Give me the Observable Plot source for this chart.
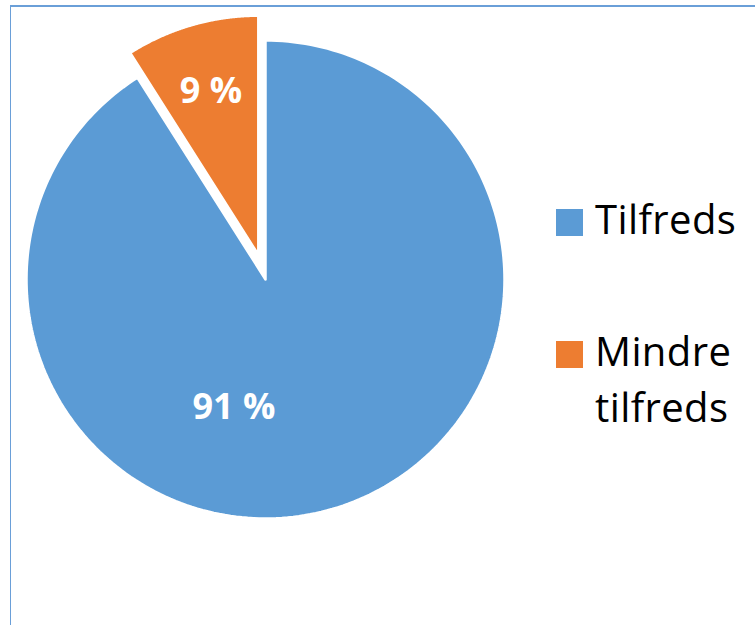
<!DOCTYPE html>
<html><head><meta charset="utf-8">
<script src="https://cdn.jsdelivr.net/npm/d3@7"></script>
<script src="https://cdn.jsdelivr.net/npm/@observablehq/plot@0.6"></script>
<style>
body{margin:0;background:#fff;width:755px;height:625px;overflow:hidden;position:relative;font-family:"Open Sans",sans-serif}
#frame{position:absolute;left:10px;top:5px;width:800px;height:700px;border-left:1.5px solid #6a9fd8;border-top:2px solid #6a9fd8;box-sizing:border-box}
#chart{position:absolute;left:0;top:0}
#legend{position:absolute;left:556px;top:191px;color:#000;font-size:40px;line-height:56px;letter-spacing:0.4px}
.item{display:flex;align-items:flex-start}
.sw{width:27px;height:27px;margin-top:18px;margin-right:12px;flex:none}
</style></head><body>
<div id="frame"></div><div id="chart"></div><div id="legend"></div>
<script>
const categories = ["Tilfreds", "Mindre tilfreds"];
const values = [91, 9];
const labels = ["91 %", "9 %"];
const colors = ["#5B9BD5", "#ED7D31"];
const exploded = [false, true];

const explodeDist = 0.108;
const labelRadius = [0.552, 0.71];
const labelAngleShift = [0.524, 0];

const arcs = d3.pie().sort(null).value(d => d)(values);
const slicePts = [];
const labelPts = [];
arcs.forEach((a, i) => {
  const mid = (a.startAngle + a.endAngle) / 2;
  const ox = exploded[i] ? explodeDist * Math.sin(mid) : 0;
  const oy = exploded[i] ? explodeDist * Math.cos(mid) : 0;
  const pts = [{x: ox, y: oy, c: categories[i]}];
  const n = 240;
  for (let k = 0; k <= n; k++) {
    const t = a.startAngle + (a.endAngle - a.startAngle) * k / n;
    pts.push({x: ox + Math.sin(t), y: oy + Math.cos(t), c: categories[i]});
  }
  pts.push({x: ox, y: oy, c: categories[i]});
  slicePts.push(pts);
  const la = mid + labelAngleShift[i];
  labelPts.push({x: ox + labelRadius[i] * Math.sin(la), y: oy + labelRadius[i] * Math.cos(la), t: labels[i]});
});

const cx = 265, cy = 279, R = 239;
const chart = Plot.plot({
  width: 755, height: 625, margin: 0,
  x: {domain: [-1, 1], range: [cx - R, cx + R], axis: null},
  y: {domain: [-1, 1], range: [cy + R, cy - R], axis: null},
  marks: [
    ...slicePts.map((pts, i) => Plot.line(pts, {x: "x", y: "y", fill: colors[i], stroke: "white", strokeWidth: 2.5, strokeLinejoin: "miter"})),
    Plot.text(labelPts, {x: "x", y: "y", text: "t", fill: "white", fontSize: 36, fontWeight: "bold", fontFamily: "Open Sans"})
  ]
});
chart.style.background = "transparent";
document.getElementById("chart").appendChild(chart);

const legend = document.getElementById("legend");
const legendLines = [["Tilfreds"], ["Mindre", "tilfreds"]];
categories.forEach((c, i) => {
  const item = document.createElement("div");
  item.className = "item";
  if (i > 0) item.style.marginTop = "76px";
  const sw = document.createElement("div");
  sw.className = "sw";
  sw.style.background = colors[i];
  const tx = document.createElement("div");
  tx.innerHTML = legendLines[i].join("<br>");
  item.appendChild(sw); item.appendChild(tx);
  legend.appendChild(item);
});
</script>
</body></html>
